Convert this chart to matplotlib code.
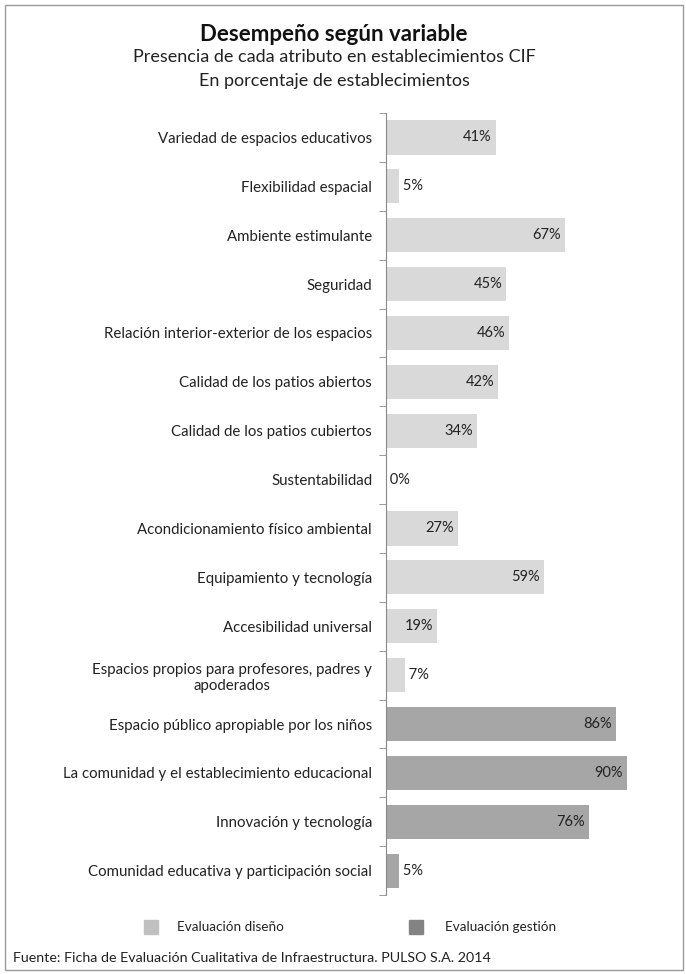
import matplotlib.pyplot as plt
from matplotlib.patches import Rectangle
import numpy as np

plt.rcParams['font.family'] = ['Lato', 'DejaVu Sans']

# categories, top to bottom
categories = [
    'Variedad de espacios educativos',
    'Flexibilidad espacial',
    'Ambiente estimulante',
    'Seguridad',
    'Relación interior-exterior de los espacios',
    'Calidad de los patios abiertos',
    'Calidad de los patios cubiertos',
    'Sustentabilidad',
    'Acondicionamiento físico ambiental',
    'Equipamiento y tecnología',
    'Accesibilidad universal',
    'Espacios propios para profesores, padres y\napoderados',
    'Espacio público apropiable por los niños',
    'La comunidad y el establecimiento educacional',
    'Innovación y tecnología',
    'Comunidad educativa y participación social',
]
values = [41, 5, 67, 45, 46, 42, 34, 0, 27, 59, 19, 7, 86, 90, 76, 5]
groups = ['diseño'] * 12 + ['gestión'] * 4

colors = {'diseño': '#d9d9d9', 'gestión': '#a6a6a6'}
legend_colors = {'diseño': '#c0c0c0', 'gestión': '#838383'}
legend_labels = {'diseño': 'Evaluación diseño', 'gestión': 'Evaluación gestión'}

fig = plt.figure(figsize=(6.86, 9.74), dpi=100)
ax = fig.add_axes([0.5627, 0.081, 0.39, 0.803])

y = np.arange(len(categories))
bar_colors = [colors[g] for g in groups]
ax.barh(y, values, height=0.7, color=bar_colors)

# value labels: inside end, or from the base if the bar is too short
for yi, v in zip(y, values):
    if v < 10:
        ax.text(v if v > 0 else 0, yi, ' %d%%' % v, ha='left', va='center',
                fontsize=10.5, color='#222222')
    else:
        ax.text(v - 1.5, yi, '%d%%' % v, ha='right', va='center',
                fontsize=10.5, color='#222222')

ax.set_ylim(len(categories) - 0.5, -0.5)
ax.set_xlim(0, 100)
ax.set_yticks(y)
ax.set_yticklabels(categories, fontsize=10.8, color='#222222', ha='right')
ax.tick_params(axis='y', length=0, pad=10)
# tick marks between categories
ax.set_yticks(np.arange(-0.5, len(categories), 1), minor=True)
ax.tick_params(axis='y', which='minor', length=5, color='#888888', direction='out')
for lbl in ax.get_yticklabels():
    lbl.set_multialignment('center')
ax.set_xticks([])
for s in ['top', 'right', 'bottom']:
    ax.spines[s].set_visible(False)
ax.spines['left'].set_color('#888888')

# titles
fig.text(0.487, 0.965, 'Desempeño según variable', ha='center', va='center',
         fontsize=16, fontweight='bold', color='#111111')
fig.text(0.487, 0.941, 'Presencia de cada atributo en establecimientos CIF',
         ha='center', va='center', fontsize=13, color='#222222')
fig.text(0.487, 0.917, 'En porcentaje de establecimientos',
         ha='center', va='center', fontsize=13, color='#222222')

# legend drawn by hand
leg_y = 1 - 927 / 974
for g, mx, tx in [('diseño', 144, 177), ('gestión', 409, 445)]:
    fig.patches.append(Rectangle((mx / 686, leg_y - 7 / 974), 14 / 686, 14 / 974,
                                 transform=fig.transFigure, color=legend_colors[g]))
    fig.text(tx / 686, leg_y, legend_labels[g], ha='left', va='center',
             fontsize=9.7, color='#222222')

fig.text(0.019, 1 - 958 / 974,
         'Fuente: Ficha de Evaluación Cualitativa de Infraestructura. PULSO S.A. 2014',
         ha='left', va='center', fontsize=10.3, color='#222222')

# outer border
fig.patches.append(Rectangle((0.007, 0.004), 0.988, 0.991, transform=fig.transFigure,
                             fill=False, edgecolor='#999999', linewidth=1))

fig.savefig('out.png', dpi=100)
